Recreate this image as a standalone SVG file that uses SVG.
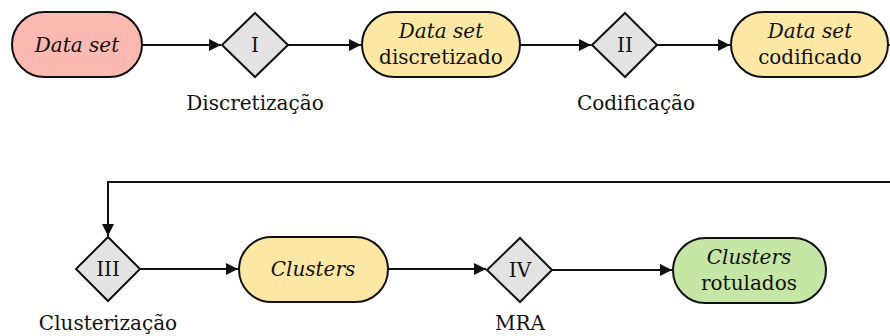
<svg xmlns="http://www.w3.org/2000/svg" width="890" height="336" viewBox="0 0 890 336">
<style>
text{font-family:"DejaVu Serif","Noto Serif",serif;font-size:20px;fill:#111;text-anchor:middle}
.it{font-style:italic}
.node{stroke:#111;stroke-width:2}
.dia{fill:#e3e3e3;stroke:#111;stroke-width:2}
.conn{fill:none;stroke:#111;stroke-width:2}
</style>
<defs>
<marker id="ah" viewBox="0 0 10 10" refX="10" refY="5" markerWidth="14" markerHeight="12" markerUnits="userSpaceOnUse" orient="auto">
<path d="M0,0L10,5L0,10Z" fill="#111"/>
</marker>
</defs>
<g id="connectors">
<path class="conn" d="M142,45H221" marker-end="url(#ah)"/>
<path class="conn" d="M288,45H361" marker-end="url(#ah)"/>
<path class="conn" d="M520,45H591" marker-end="url(#ah)"/>
<path class="conn" d="M657,45H730" marker-end="url(#ah)"/>
<path class="conn" d="M888,45H892"/>
<path class="conn" d="M892,182H108V236" marker-end="url(#ah)"/>
<path class="conn" d="M140,269H238" marker-end="url(#ah)"/>
<path class="conn" d="M388,269H486" marker-end="url(#ah)"/>
<path class="conn" d="M552,270H672" marker-end="url(#ah)"/>
</g>
<g id="n1"><rect class="node" x="12" y="12" width="130" height="65" rx="32.5" fill="#fbb9b2"/><text class="it" x="77" y="52">Data set</text></g>
<g id="d1"><polygon class="dia" points="255,13 288,45 255,77 222,45"/><text x="255" y="52">I</text></g>
<g id="l1"><text x="255" y="110">Discretização</text></g>
<g id="n2"><rect class="node" x="362" y="12" width="158" height="65" rx="32.5" fill="#fce7a5"/><text class="it" x="441" y="38">Data set</text><text x="441" y="64">discretizado</text></g>
<g id="d2"><polygon class="dia" points="625,13 657,45 625,77 592,45"/><text x="625" y="52">II</text></g>
<g id="l2"><text x="636" y="110">Codificação</text></g>
<g id="n3"><rect class="node" x="731" y="12" width="157" height="65" rx="32.5" fill="#fce7a5"/><text class="it" x="810" y="38">Data set</text><text x="810" y="64">codificado</text></g>
<g id="d3"><polygon class="dia" points="108,237 140,269 108,301 76,269"/><text x="108" y="276">III</text></g>
<g id="l3"><text x="108" y="330">Clusterização</text></g>
<g id="n4"><rect class="node" x="239" y="237" width="149" height="65" rx="32.5" fill="#fce7a5"/><text class="it" x="313" y="276">Clusters</text></g>
<g id="d4"><polygon class="dia" points="520,238 552,270 520,302 487,270"/><text x="520" y="277">IV</text></g>
<g id="l4"><text x="520" y="330">MRA</text></g>
<g id="n5"><rect class="node" x="673" y="238" width="153" height="65" rx="32.5" fill="#c6e6a6"/><text class="it" x="749" y="264">Clusters</text><text x="749" y="290">rotulados</text></g>
</svg>
